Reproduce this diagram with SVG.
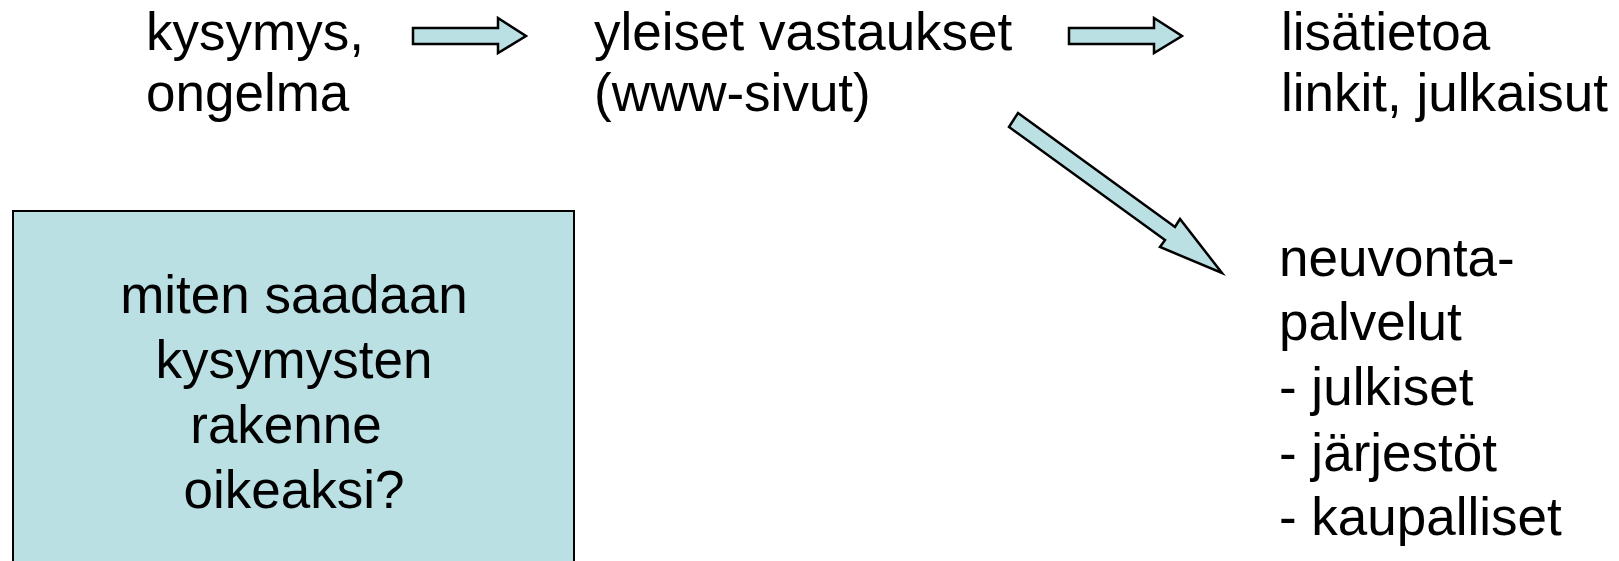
<svg xmlns="http://www.w3.org/2000/svg" width="1619" height="561" viewBox="0 0 1619 561">
<style>
  text { font-family: "Liberation Sans", Arial, sans-serif; font-size: 53px; fill: #000; }
  .arrow { fill: #BBE0E3; stroke: #000; stroke-width: 2.5; stroke-linejoin: miter; }
  .box { fill: #BBE0E3; stroke: #000; stroke-width: 2; }
  .c { text-anchor: middle; }
</style>
<rect width="1619" height="561" fill="#fff"/>
<g id="connectors">
  <polygon class="arrow" points="413,28 498,28 498,18 526,36 498,53 498,44 413,44"/>
  <polygon class="arrow" points="1069,28 1154,28 1154,18 1182,36 1154,53 1154,44 1069,44"/>
  <polygon class="arrow" points="1018,113 1175,227 1180,219 1222,273 1160,247 1165,240 1009,127"/>
</g>
<g id="node-kysymys">
  <text x="146" y="50">kysymys,</text>
  <text x="146" y="111">ongelma</text>
</g>
<g id="node-yleiset">
  <text x="594" y="50">yleiset vastaukset</text>
  <text x="594" y="111">(www-sivut)</text>
</g>
<g id="node-lisatietoa">
  <text x="1281" y="50">lisätietoa</text>
  <text x="1281" y="111">linkit, julkaisut</text>
</g>
<g id="node-neuvonta">
  <text x="1279" y="276">neuvonta-</text>
  <text x="1279" y="340">palvelut</text>
  <text x="1279" y="405">- julkiset</text>
  <text x="1279" y="471">- järjestöt</text>
  <text x="1279" y="535">- kaupalliset</text>
</g>
<g id="node-box">
  <rect class="box" x="13" y="211" width="561" height="360"/>
  <text class="c" x="294" y="313">miten saadaan</text>
  <text class="c" x="294" y="378">kysymysten</text>
  <text class="c" x="286" y="443">rakenne</text>
  <text class="c" x="294" y="508">oikeaksi?</text>
</g>
</svg>
